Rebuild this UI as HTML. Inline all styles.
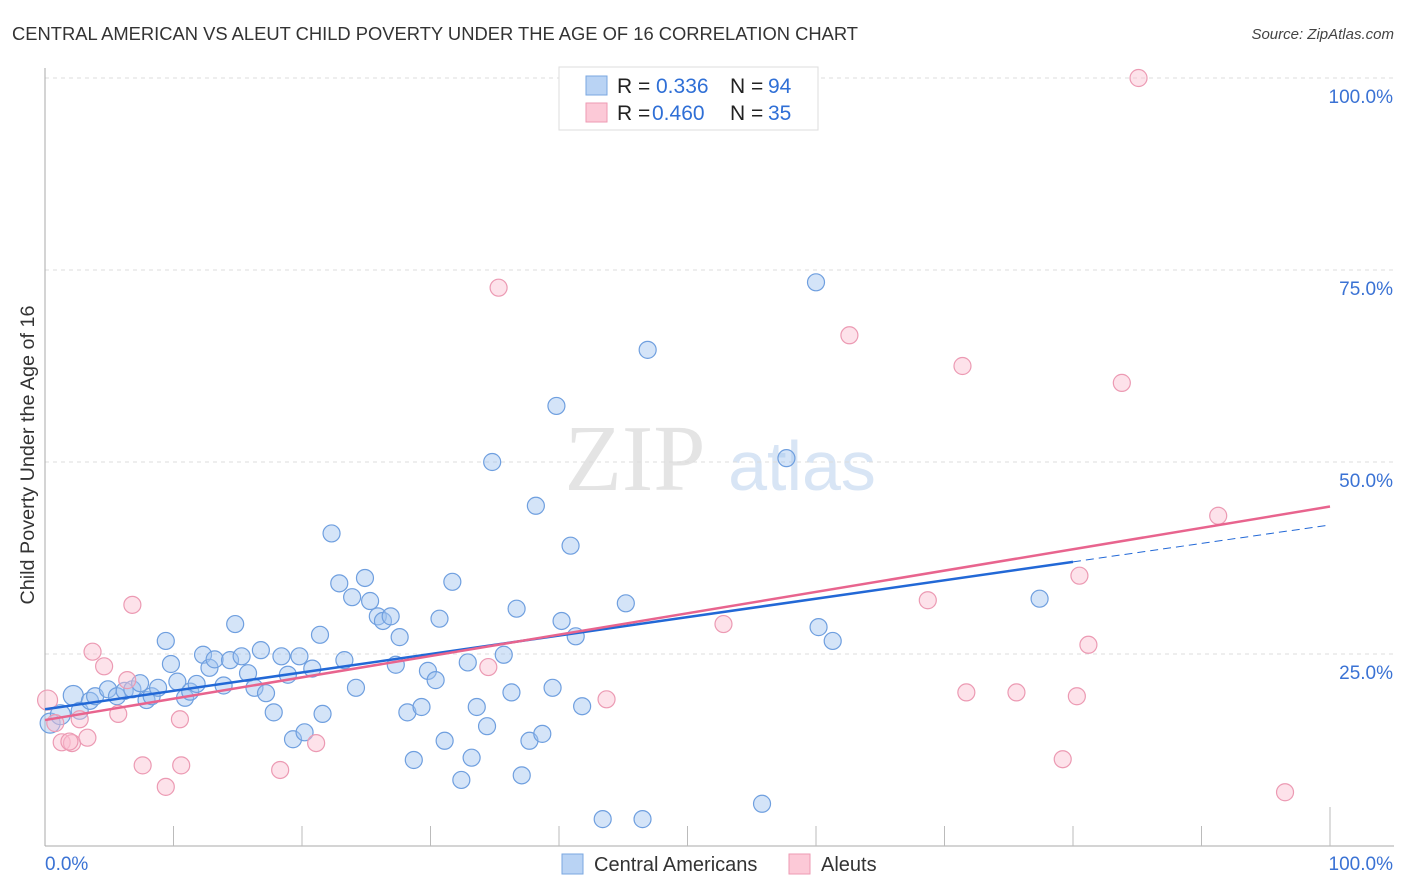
<!DOCTYPE html>
<html><head><meta charset="utf-8"><style>
body{margin:0;background:#fff;font-family:"Liberation Sans",sans-serif;}
svg{display:block}
</style></head><body>
<svg id="chart" width="1406" height="892" viewBox="0 0 1406 892" xmlns="http://www.w3.org/2000/svg">
<text x="12" y="40" font-size="18.3" fill="#333" textLength="846" lengthAdjust="spacingAndGlyphs">CENTRAL AMERICAN VS ALEUT CHILD POVERTY UNDER THE AGE OF 16 CORRELATION CHART</text>
<text x="1394" y="39" font-size="15" fill="#444" font-style="italic" text-anchor="end">Source: ZipAtlas.com</text>
<g>
<text x="635" y="490" font-size="94" fill="#e4e4e4" font-family="Liberation Serif,serif" text-anchor="middle">ZIP</text>
<text x="802" y="490" font-size="70" fill="#d8e5f5" text-anchor="middle">atlas</text>
</g>
<g id="grid"></g>
<g id="axes"></g>
<g id="points"></g>
<g id="trends"></g>
<text transform="translate(34,455) rotate(-90)" font-size="19.8" fill="#333" text-anchor="middle">Child Poverty Under the Age of 16</text>
<g>
<rect x="559" y="67" width="259" height="63" fill="#fff" stroke="#ddd"/>
<rect x="586" y="76" width="21" height="19" fill="#b9d3f4" stroke="#7aa7e0"/>
<rect x="586" y="103" width="21" height="19" fill="#fcc9d7" stroke="#ee9ab3"/>
<text x="617" y="93" font-size="21" fill="#222">R = </text><text x="656" y="93" font-size="21" fill="#2f6fd6">0.336</text>
<text x="730" y="93" font-size="21" fill="#222">N = </text><text x="768" y="93" font-size="21" fill="#2f6fd6">94</text>
<text x="617" y="120" font-size="21" fill="#222">R = </text><text x="652" y="120" font-size="21" fill="#2f6fd6">0.460</text>
<text x="730" y="120" font-size="21" fill="#222">N = </text><text x="768" y="120" font-size="21" fill="#2f6fd6">35</text>
</g>
<g>
<rect x="562" y="854" width="21" height="20" fill="#b9d3f4" stroke="#7aa7e0"/>
<text x="594" y="871" font-size="20" fill="#333">Central Americans</text>
<rect x="789" y="854" width="21" height="20" fill="#fcc9d7" stroke="#ee9ab3"/>
<text x="821" y="871" font-size="20" fill="#333">Aleuts</text>
</g>
</svg>
<script>
const yTicks=[25,50,75,100];
const yTickLabels=["25.0%","50.0%","75.0%","100.0%"];
const xTicks=[0,10,20,30,40,50,60,70,80,90,100];
const blueX=[0.4,1.2,2.2,2.7,3.5,3.9,4.9,5.6,6.2,6.8,7.4,7.9,8.3,8.8,9.4,9.8,10.3,10.9,11.3,11.8,12.3,12.8,13.2,13.9,14.4,14.8,15.3,15.8,16.3,16.8,17.2,17.8,18.4,18.9,19.3,19.8,20.2,20.8,21.4,21.6,22.3,22.9,23.3,23.9,24.2,24.9,25.3,25.9,26.3,26.9,27.3,27.6,28.2,28.7,29.3,29.8,30.4,30.7,31.1,31.7,32.4,32.9,33.2,33.6,34.4,34.8,35.7,36.3,36.7,37.1,37.7,38.2,38.7,39.5,39.8,40.2,40.9,41.3,41.8,43.4,45.2,46.5,46.9,55.8,57.7,60.0,60.2,61.3,77.4];
const blueY=[16.0,17.1,19.6,17.6,18.9,19.5,20.4,19.5,20.2,20.4,21.2,19.0,19.5,20.6,26.7,23.7,21.4,19.3,20.1,21.1,24.9,23.2,24.3,20.9,24.2,28.9,24.7,22.5,20.6,25.5,19.9,17.4,24.7,22.3,13.9,24.7,14.8,23.1,27.5,17.2,40.7,34.2,24.2,32.4,20.6,34.9,31.9,29.9,29.3,29.9,23.6,27.2,17.4,11.2,18.1,22.8,21.6,29.6,13.7,34.4,8.6,23.9,11.5,18.1,15.6,50.0,24.9,20.0,30.9,9.2,13.7,44.3,14.6,20.6,57.3,29.3,39.1,27.3,18.2,3.5,31.6,3.5,64.6,5.5,50.5,73.4,28.5,26.7,32.2];
const pinkX=[0.2,0.8,1.3,2.1,2.7,3.3,3.7,4.6,5.7,6.4,6.8,7.6,9.4,10.5,10.6,18.3,21.1,34.5,35.3,43.7,52.8,62.6,68.7,71.4,71.7,75.6,79.2,80.3,80.5,81.2,83.8,85.1,91.3,96.5,1.9];
const pinkY=[19.0,16.0,13.5,13.4,16.5,14.1,25.3,23.4,17.2,21.6,31.4,10.5,7.7,16.5,10.5,9.9,13.4,23.3,72.7,19.1,28.9,66.5,32.0,62.5,20.0,20.0,11.3,19.5,35.2,26.2,60.3,100.0,43.0,7.0,13.6];
const blueTrend=[17.8,37.0];
const pinkTrend=[16.4,44.2];
const NS="http://www.w3.org/2000/svg";
const X0=45,X1=1330,Y0=846,Y1=78;
const xs=v=>X0+(X1-X0)*v/100;
const ys=v=>Y0-(Y0-Y1)*v/100;
function mk(tag,attrs,parent){const e=document.createElementNS(NS,tag);for(const k in attrs)e.setAttribute(k,attrs[k]);parent.appendChild(e);return e;}
const grid=document.getElementById('grid'),axes=document.getElementById('axes'),pts=document.getElementById('points'),tr=document.getElementById('trends');
yTicks.forEach((t,i)=>{
 const l=mk('line',{x1:X0,x2:1394,y1:ys(t),y2:ys(t),stroke:'#ddd','stroke-dasharray':'4 4'},grid);
 
 
 const tx=mk('text',{x:1393,y:ys(t)+25,'font-size':19,fill:'#3a72d4','text-anchor':'end'},axes);
 tx.textContent=yTickLabels[i];
 
 
});
mk('line',{x1:X0,x2:X0,y1:68,y2:Y0,stroke:'#aaa'},axes);
mk('line',{x1:X0,x2:1394,y1:Y0,y2:Y0,stroke:'#aaa'},axes);
xTicks.forEach(t=>{
 if(t===0)return;
 const tk=mk('line',{x1:xs(t),x2:xs(t),y1:t===100?807:826,y2:Y0,stroke:'#bbb'},axes);
 
 
});
const xl0=mk('text',{x:45,y:870,'font-size':19,fill:'#3a72d4'},axes);xl0.textContent='0.0%';


const xl1=mk('text',{x:1393,y:870,'font-size':19,fill:'#3a72d4','text-anchor':'end'},axes);xl1.textContent='100.0%';


blueX.forEach((x,i)=>{
 const c=mk('circle',{cx:xs(x),cy:ys(blueY[i]),r:i<3?10:8.5,fill:'rgba(160,196,240,0.45)',stroke:'#6f9fdf','stroke-width':1.2},pts);
 
 
});
pinkX.forEach((x,i)=>{
 const c=mk('circle',{cx:xs(x),cy:ys(pinkY[i]),r:i===0?10:8.5,fill:'rgba(250,190,208,0.45)',stroke:'#ec9ab3','stroke-width':1.2},pts);
 
 
});
const bAt=v=>blueTrend[0]+(blueTrend[1]-blueTrend[0])*v/80;
const b1=mk('line',{x1:xs(0),y1:ys(bAt(0)),x2:xs(80),y2:ys(bAt(80)),stroke:'#2268d6','stroke-width':2.5},tr);


const b2=mk('line',{x1:xs(80),y1:ys(bAt(80)),x2:xs(100),y2:ys(bAt(100)),stroke:'#2268d6','stroke-width':1,'stroke-dasharray':'8 5'},tr);


const p1=mk('line',{x1:xs(0),y1:ys(pinkTrend[0]),x2:xs(100),y2:ys(pinkTrend[1]),stroke:'#e8648e','stroke-width':2.5},tr);


</script>
</body></html>
